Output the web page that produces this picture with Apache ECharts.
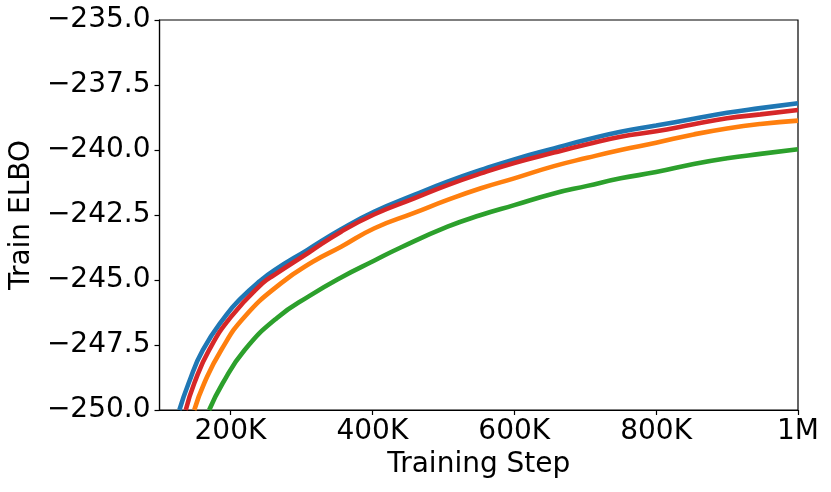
<!DOCTYPE html>
<html>
<head>
<meta charset="utf-8">
<script src="https://cdn.jsdelivr.net/npm/echarts@6/dist/echarts.min.js"></script>
<style>html,body{margin:0;padding:0;background:#fff}#c{width:831px;height:492px}</style>
</head>
<body>
<div id="c"></div>
<script>
// Training steps (K) and Train ELBO values
const blueSteps   = [128, 141, 161, 194, 215, 241, 262, 308, 356, 403, 459, 506, 553, 600, 656, 703, 750, 800, 853, 900, 947, 1000];
const blueVals    = [-250, -248.97, -247.7, -246.35, -245.7, -245.05, -244.62, -243.85, -243.05, -242.37, -241.73, -241.22, -240.77, -240.36, -239.94, -239.6, -239.3, -239.06, -238.8, -238.57, -238.39, -238.2];
const redSteps    = [137, 149, 170, 201, 245, 262, 310, 356, 403, 459, 506, 553, 600, 656, 703, 750, 800, 853, 900, 947, 1000];
const redVals     = [-250, -248.97, -247.69, -246.41, -245.13, -244.8, -243.95, -243.14, -242.47, -241.86, -241.35, -240.9, -240.5, -240.1, -239.78, -239.49, -239.28, -239.01, -238.78, -238.63, -238.46];
const orangeSteps = [149, 163, 187, 220, 271, 316, 356, 403, 459, 506, 553, 600, 656, 703, 750, 800, 853, 900, 947, 1000];
const orangeVals  = [-250, -248.97, -247.69, -246.41, -245.13, -244.3, -243.72, -243.01, -242.42, -241.92, -241.47, -241.09, -240.62, -240.3, -240.0, -239.72, -239.4, -239.17, -239.0, -238.87];
const greenSteps  = [170, 189, 220, 266, 312, 356, 403, 440, 506, 553, 600, 656, 703, 750, 800, 853, 900, 947, 1000];
const greenVals   = [-250, -248.97, -247.69, -246.45, -245.6, -244.9, -244.25, -243.75, -242.95, -242.5, -242.12, -241.67, -241.38, -241.09, -240.85, -240.54, -240.32, -240.15, -239.97];
const xTicks = [200, 400, 600, 800, 1000];
const xTickLabels = ['200K', '400K', '600K', '800K', '1M'];

const pair = (xs, ys) => xs.map((x, i) => [x, ys[i]]);
const font = 'DejaVu Sans';
const mk = (name, xs, ys, color) => ({
  name, type: 'line', data: pair(xs, ys), smooth: 0.5, showSymbol: false, clip: true,
  lineStyle: { color, width: 4.6 }, itemStyle: { color }
});

const chart = echarts.init(document.getElementById('c'));
chart.setOption({
  animation: false,
  grid: { left: 158, right: 33, top: 20, bottom: 82, show: true, borderColor: '#000', borderWidth: 1.2 },
  xAxis: {
    type: 'value', min: 100, max: 1000,
    name: 'Training Step', nameLocation: 'middle', nameGap: 40,
    nameTextStyle: { fontFamily: font, fontSize: 28, color: '#000' },
    axisLine: { show: true, lineStyle: { color: '#000', width: 1.2 } },
    axisTick: { show: true, length: 5, inside: false, customValues: xTicks, lineStyle: { color: '#000', width: 1.2 } },
    axisLabel: { customValues: xTicks, fontFamily: font, fontSize: 28, color: '#000', margin: 8,
      formatter: v => xTickLabels[xTicks.indexOf(v)] },
    splitLine: { show: false }
  },
  yAxis: {
    type: 'value', min: -250, max: -235, interval: 2.5,
    name: 'Train ELBO', nameLocation: 'middle', nameGap: 117, nameRotate: 90,
    nameTextStyle: { fontFamily: font, fontSize: 28, color: '#000' },
    axisLine: { show: true, lineStyle: { color: '#000', width: 1.2 } },
    axisTick: { show: true, length: 5, lineStyle: { color: '#000', width: 1.2 } },
    axisLabel: { fontFamily: font, fontSize: 28, color: '#000', margin: 9,
      formatter: v => '\u2212' + Math.abs(v).toFixed(1) },
    splitLine: { show: false }
  },
  series: [
    mk('blue', blueSteps, blueVals, '#1f77b4'),
    mk('orange', orangeSteps, orangeVals, '#ff7f0e'),
    mk('green', greenSteps, greenVals, '#2ca02c'),
    mk('red', redSteps, redVals, '#d62728')
  ]
});
</script>
</body>
</html>
